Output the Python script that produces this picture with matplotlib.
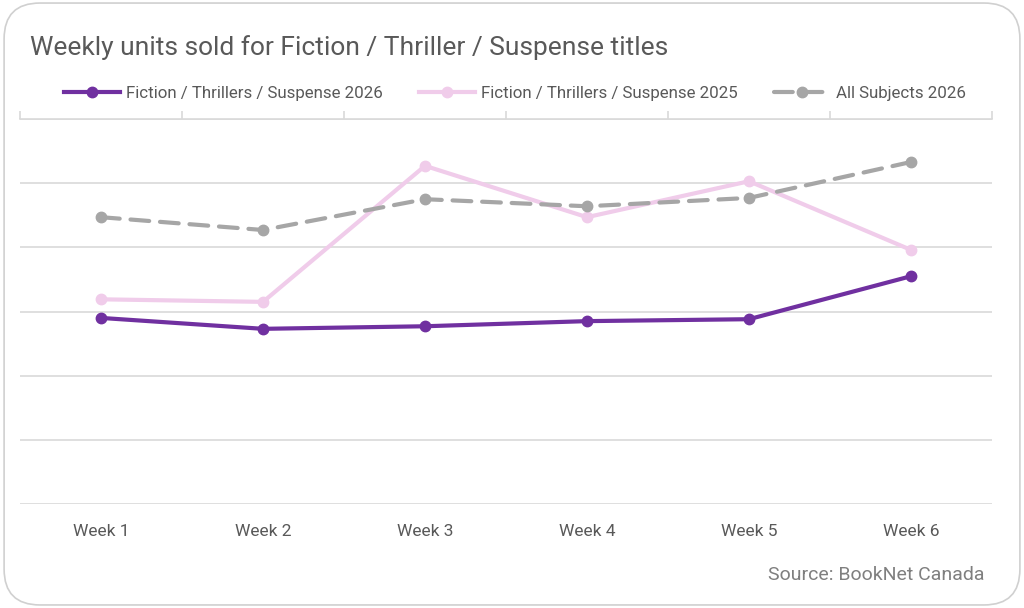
import numpy as np
import matplotlib.pyplot as plt
from matplotlib.patches import FancyBboxPatch

plt.rcParams["font.family"] = ["Roboto", "DejaVu Sans"]

# 資料（無 y 軸標籤，數值依圖估計）
weeks = ['Week 1', 'Week 2', 'Week 3', 'Week 4', 'Week 5', 'Week 6']
fts_2026 = [2.90, 2.73, 2.77, 2.85, 2.88, 3.55]
fts_2025 = [3.19, 3.15, 5.27, 4.47, 5.03, 3.96]
all_2026 = [4.47, 4.27, 4.75, 4.64, 4.77, 5.33]

text_color = '#595959'
grid_color = '#d9d9d9'

fig = plt.figure(figsize=(10.24, 6.08), dpi=100)

# 圓角外框
frame = FancyBboxPatch((0.004, 0.005), 0.992, 0.99,
                       boxstyle="round,pad=0,rounding_size=0.035",
                       transform=fig.transFigure, facecolor='white',
                       edgecolor='#d0d0d0', linewidth=1.2, mutation_aspect=1024/608,
                       zorder=-10)
fig.patches.append(frame)

ax = fig.add_axes([20/1024, 1 - 504/608, 972/1024, 385/608])
ax.set_facecolor('none')

x = np.arange(len(weeks))
ax.plot(x, fts_2026, color='#7030A0', lw=3.0, marker='o', ms=7.5,
        label='Fiction / Thrillers / Suspense 2026', zorder=3)
ax.plot(x, fts_2025, color='#F0CCEA', lw=3.0, marker='o', ms=7.5,
        label='Fiction / Thrillers / Suspense 2025', zorder=4)
ax.plot(x, all_2026, color='#A6A6A6', lw=3.0, marker='o', ms=7.5,
        dashes=(4.5, 2.6), dash_capstyle='round',
        label='All Subjects 2026', zorder=5)

ax.set_xlim(-0.5, 5.5)
ax.set_ylim(0, 6)
ax.set_yticks(np.arange(0, 7, 1))
ax.yaxis.grid(True, color=grid_color, lw=1.2)
ax.set_axisbelow(True)
ax.tick_params(axis='y', left=False, labelleft=False)

# 類別標籤在下方，刻度在上方軸線
ax.set_xticks(x)
ax.set_xticklabels(weeks, fontsize=12.5, color=text_color)
ax.tick_params(axis='x', bottom=False, top=False, pad=11)
ax.set_xticks(np.arange(-0.5, 6.0, 1), minor=True)
ax.tick_params(axis='x', which='minor', top=True, bottom=False, direction='out',
               length=6, color=grid_color, width=1.2)
for s in ['left', 'right', 'bottom']:
    ax.spines[s].set_visible(False)
ax.spines['top'].set_color(grid_color)
ax.spines['top'].set_linewidth(1.2)

fig.text(30/1024, 1 - 48/608, 'Weekly units sold for Fiction / Thriller / Suspense titles',
         fontsize=19, color=text_color, va='center', ha='left')

fig.legend(loc='center', bbox_to_anchor=(515/1024, 1 - 93/608), ncol=3, frameon=False,
           fontsize=12.2, labelcolor=text_color, handlelength=3.3, columnspacing=2.1,
           handletextpad=0.4)

fig.text(985/1024, 1 - 575/608, 'Source: BookNet Canada', fontsize=14,
         color='#7f7f7f', ha='right', va='center')

fig.savefig('out.png', dpi=100)
